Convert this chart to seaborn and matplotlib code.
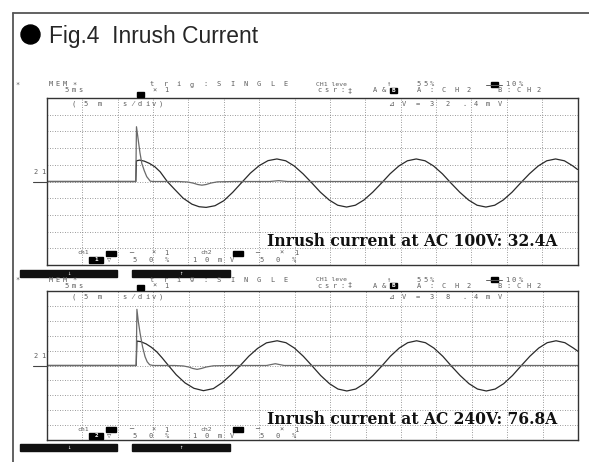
import matplotlib
matplotlib.use("Agg")
import matplotlib.pyplot as plt
import matplotlib.patches as mpatches
import seaborn as sns

# --- traces (x in divisions, 5 ms/div; y in divisions) ---
# AC 100V
t_spike_100 = [0, 2.51, 2.53, 2.58, 2.63, 2.68, 2.75, 2.82, 2.92, 3.0, 3.7, 3.98, 4.14,
               4.26, 4.38, 4.5, 4.64, 4.82, 5.3, 6.3, 6.55, 6.8, 15.0]
v_spike_100 = [0, 0, 3.28, 2.48, 1.7, 1.09, 0.65, 0.29, 0.02, 0, 0, -0.03, -0.1,
               -0.18, -0.22, -0.18, -0.09, -0.02, 0, 0, 0.05, 0, 0]
t_wave_100 = [0, 2.51, 2.53, 2.62, 2.75, 2.9, 3.05, 3.2, 3.4, 3.6, 3.85, 4.1, 4.3, 4.5,
              4.75, 5.0, 5.25, 5.51, 5.75, 6.0, 6.25,
              6.50, 6.75, 6.99, 7.24, 7.49, 7.73, 7.98, 8.22, 8.47, 8.72, 8.96, 9.21,
              9.46, 9.70, 9.95, 10.19, 10.44, 10.69, 10.93, 11.18, 11.42, 11.67, 11.92,
              12.16, 12.41, 12.66, 12.90, 13.15, 13.39, 13.64, 13.89, 14.13, 14.38,
              14.63, 14.87, 15.0]
v_wave_100 = [0, 0, 1.24, 1.28, 1.22, 1.08, 0.88, 0.58, 0.0, -0.45, -1.0, -1.36, -1.51, -1.55,
              -1.45, -1.15, -0.65, -0.05, 0.5, 0.95, 1.25,
              1.35, 1.24, 0.93, 0.46, -0.09, -0.64, -1.11, -1.42, -1.53, -1.42, -1.11, -0.64,
              -0.09, 0.46, 0.93, 1.24, 1.35, 1.24, 0.93, 0.46, -0.09, -0.64, -1.11,
              -1.42, -1.53, -1.42, -1.11, -0.64, -0.09, 0.46, 0.93, 1.24, 1.35,
              1.24, 0.93, 0.72]

# AC 240V
t_spike_240 = [0, 2.52, 2.54, 2.58, 2.63, 2.70, 2.77, 2.83, 2.90, 3.0, 3.6, 3.85, 4.0,
               4.12, 4.24, 4.36, 4.5, 4.7, 5.2, 6.2, 6.45, 6.7, 15.0]
v_spike_240 = [0, 0, 3.77, 2.95, 2.16, 1.25, 0.59, 0.25, 0.05, 0, 0, -0.03, -0.1,
               -0.2, -0.26, -0.2, -0.1, -0.02, 0, 0, 0.12, 0, 0]
t_wave_240 = [0, 2.52, 2.54, 2.65, 2.8, 2.95, 3.1, 3.25, 3.43, 3.65, 3.9, 4.15, 4.42,
              4.7, 4.95, 5.2, 5.46, 5.7, 5.95, 6.2,
              6.50, 6.75, 6.99, 7.24, 7.49, 7.73, 7.98, 8.22, 8.47, 8.72, 8.96, 9.21,
              9.46, 9.70, 9.95, 10.19, 10.44, 10.69, 10.93, 11.18, 11.42, 11.67, 11.92,
              12.16, 12.41, 12.66, 12.90, 13.15, 13.39, 13.64, 13.89, 14.13, 14.38,
              14.63, 14.87, 15.0]
v_wave_240 = [0, 0, 1.64, 1.60, 1.45, 1.22, 0.92, 0.52, 0.0, -0.62, -1.17, -1.53, -1.69,
              -1.55, -1.15, -0.62, 0.0, 0.62, 1.15, 1.52,
              1.66, 1.53, 1.17, 0.62, -0.03, -0.67, -1.22, -1.58, -1.71, -1.58, -1.22, -0.67,
              -0.03, 0.62, 1.17, 1.53, 1.66, 1.53, 1.17, 0.62, -0.03, -0.67, -1.22,
              -1.58, -1.71, -1.58, -1.22, -0.67, -0.03, 0.62, 1.17, 1.53, 1.66,
              1.53, 1.17, 0.95]

title = "Fig.4  Inrush Current"
labels = ["Inrush current at AC 100V: 32.4A", "Inrush current at AC 240V: 76.8A"]
dv_text = ["32.4mV", "38.4mV"]
ch_num = ["1", "2"]

W, H = 589, 462
sns.set_style("white")
fig = plt.figure(figsize=(W / 100, H / 100), dpi=100)

DOT = ["DejaVu Sans Mono", "DejaVu Sans", "Noto Sans CJK JP"]
GREY = "#5e5e5e"


def grid_axes(left, top, right, bottom):
    ax = fig.add_axes([left / W, 1 - bottom / H, (right - left) / W, (bottom - top) / H])
    ax.set_xlim(0, 15)
    ax.set_ylim(-5, 5)
    ax.set_xticks(range(16))
    ax.set_yticks(range(-5, 6))
    ax.tick_params(length=0, labelbottom=False, labelleft=False)
    ax.grid(True, linestyle=(0, (1, 2)), color="#7a7a7a", linewidth=0.6)
    for s in ax.spines.values():
        s.set_color("#333333")
        s.set_linewidth(1.0)
    return ax


ax1 = grid_axes(47, 98, 577.5, 265)
ax2 = grid_axes(47, 291, 578, 440)

for ax, ts, vs, tw, vw in [(ax1, t_spike_100, v_spike_100, t_wave_100, v_wave_100),
                           (ax2, t_spike_240, v_spike_240, t_wave_240, v_wave_240)]:
    sns.lineplot(x=tw, y=vw, ax=ax, color="#2a2a2a", linewidth=0.9, estimator=None, sort=False)
    sns.lineplot(x=ts, y=vs, ax=ax, color="#6a6a6a", linewidth=0.9, estimator=None, sort=False)
    ax.set_xlabel("")
    ax.set_ylabel("")

# overlay in pixel coordinates for all the screen texts and decorations
ov = fig.add_axes([0, 0, 1, 1], zorder=10)
ov.set_xlim(0, W)
ov.set_ylim(H, 0)
ov.axis("off")
ov.patch.set_alpha(0)

# outer frame
ov.plot([13, 13], [13, H], color="#555555", lw=1.3)
ov.plot([13, W], [13, 13], color="#555555", lw=1.3)
ov.add_patch(mpatches.Circle((30.5, 34.5), 9.5, color="black"))
ov.text(49, 42.5, title, fontsize=16.4, va="baseline", ha="left",
        family=["Liberation Sans Narrow", "Liberation Sans", "DejaVu Sans"])


def dots(s, x0, x1, y, size=5.0, color=GREY):
    n = len(s)
    for i, ch in enumerate(s):
        if ch == " ":
            continue
        x = x0 if n == 1 else x0 + i * (x1 - x0) / (n - 1)
        ov.text(x, y, ch, fontsize=size, family=DOT, color=color, ha="center", va="center")


def small(s, x, y, size=4.6, color=GREY):
    ov.text(x, y, s, fontsize=size, family=DOT, color=color, ha="left", va="center")


def inv_box(x0, x1, y0, y1, ch=None):
    ov.add_patch(mpatches.Rectangle((x0, y0), x1 - x0, y1 - y0, color="black"))
    if ch:
        ov.text((x0 + x1) / 2, (y0 + y1) / 2, ch, fontsize=4.3, family=DOT,
                color="white", ha="center", va="center", fontweight="bold")


def screen_text(top, bottom, zero_y, k, y1, y2, ya, yb):
    dots("*", 18, 18, y1)
    dots("MEM", 51, 65, y1)
    dots("*", 75, 75, y1)
    dots("trig:SINGLE", 152, 286, y1)
    small("CH1 leve", 316, y1)
    dots("↑", 388, 388, y1)
    dots("55%", 419, 432, y1)
    ov.plot([486, 502], [y1, y1], color=GREY, lw=0.7)
    inv_box(490.5, 497.5, y1 - 2.5, y1 + 2.5)
    dots("10%", 507, 521, y1)
    dots("5ms", 67, 80, y2)
    dots("×1", 155, 166, y2)
    dots("csr:‡", 319, 350, y2)
    dots("A&", 375, 384, y2)
    inv_box(389.5, 397, y2 - 2.5, y2 + 2.5, "B")
    dots("A:CH2", 419, 469, y2)
    dots("B:CH2", 499, 539, y2)
    # trigger marker on top edge
    inv_box(137, 143.5, top - 6.5, top - 1.5)
    # first row inside
    yr = top + 6
    for ch, x in zip("(5ms⁄div)", [74, 86, 100, 124, 133, 140, 147, 154, 161]):
        dots(ch, x, x, yr)
    for ch, x in zip("⊿V=" + dv_text[k], [391, 404, 418, 432, 448, 464, 476, 488, 500]):
        dots(ch, x, x, yr)
    # bottom rows inside
    small("ch1", 77, ya)
    inv_box(106, 116, ya - 2.5, ya + 2.5)
    dots("─", 131, 131, ya)
    dots("×1", 154, 166, ya)
    small("ch2", 200, ya)
    inv_box(233, 243, ya - 2.5, ya + 2.5)
    dots("─", 257, 257, ya)
    dots("×1", 282, 296, ya)
    inv_box(89, 103, yb - 3, yb + 3, ch_num[k])
    dots("▽", 109, 109, yb)
    dots("50%", 135, 167, yb)
    dots("10mV", 194, 232, yb)
    dots("50%", 262, 294, yb)
    # channel marker at zero
    dots("21", 36, 43, zero_y - 9)
    ov.plot([33, 47], [zero_y, zero_y], color="#444444", lw=0.8)


screen_text(98, 265, 181.5, 0, 84.5, 90.5, 253, 259.5)
screen_text(291, 440, 365.5, 1, 279.5, 285.5, 429.5, 435.5)

# scroll bars under each screen
for yb in (270, 444):
    for x0, x1, arrow in ((20, 117, "↓"), (132, 230, "↑")):
        ov.add_patch(mpatches.Rectangle((x0, yb), x1 - x0, 6.5, color="#111111"))
        ov.text((x0 + x1) / 2, yb + 3.2, arrow, fontsize=4, color="white",
                ha="center", va="center", family=DOT)

# big annotations
for lab, yb in zip(labels, (245.5, 423.5)):
    ov.text(557, yb, lab, fontsize=11.2, fontweight="bold", family="DejaVu Serif",
            ha="right", va="baseline", color="#111111")

fig.savefig("out.png", dpi=100)
